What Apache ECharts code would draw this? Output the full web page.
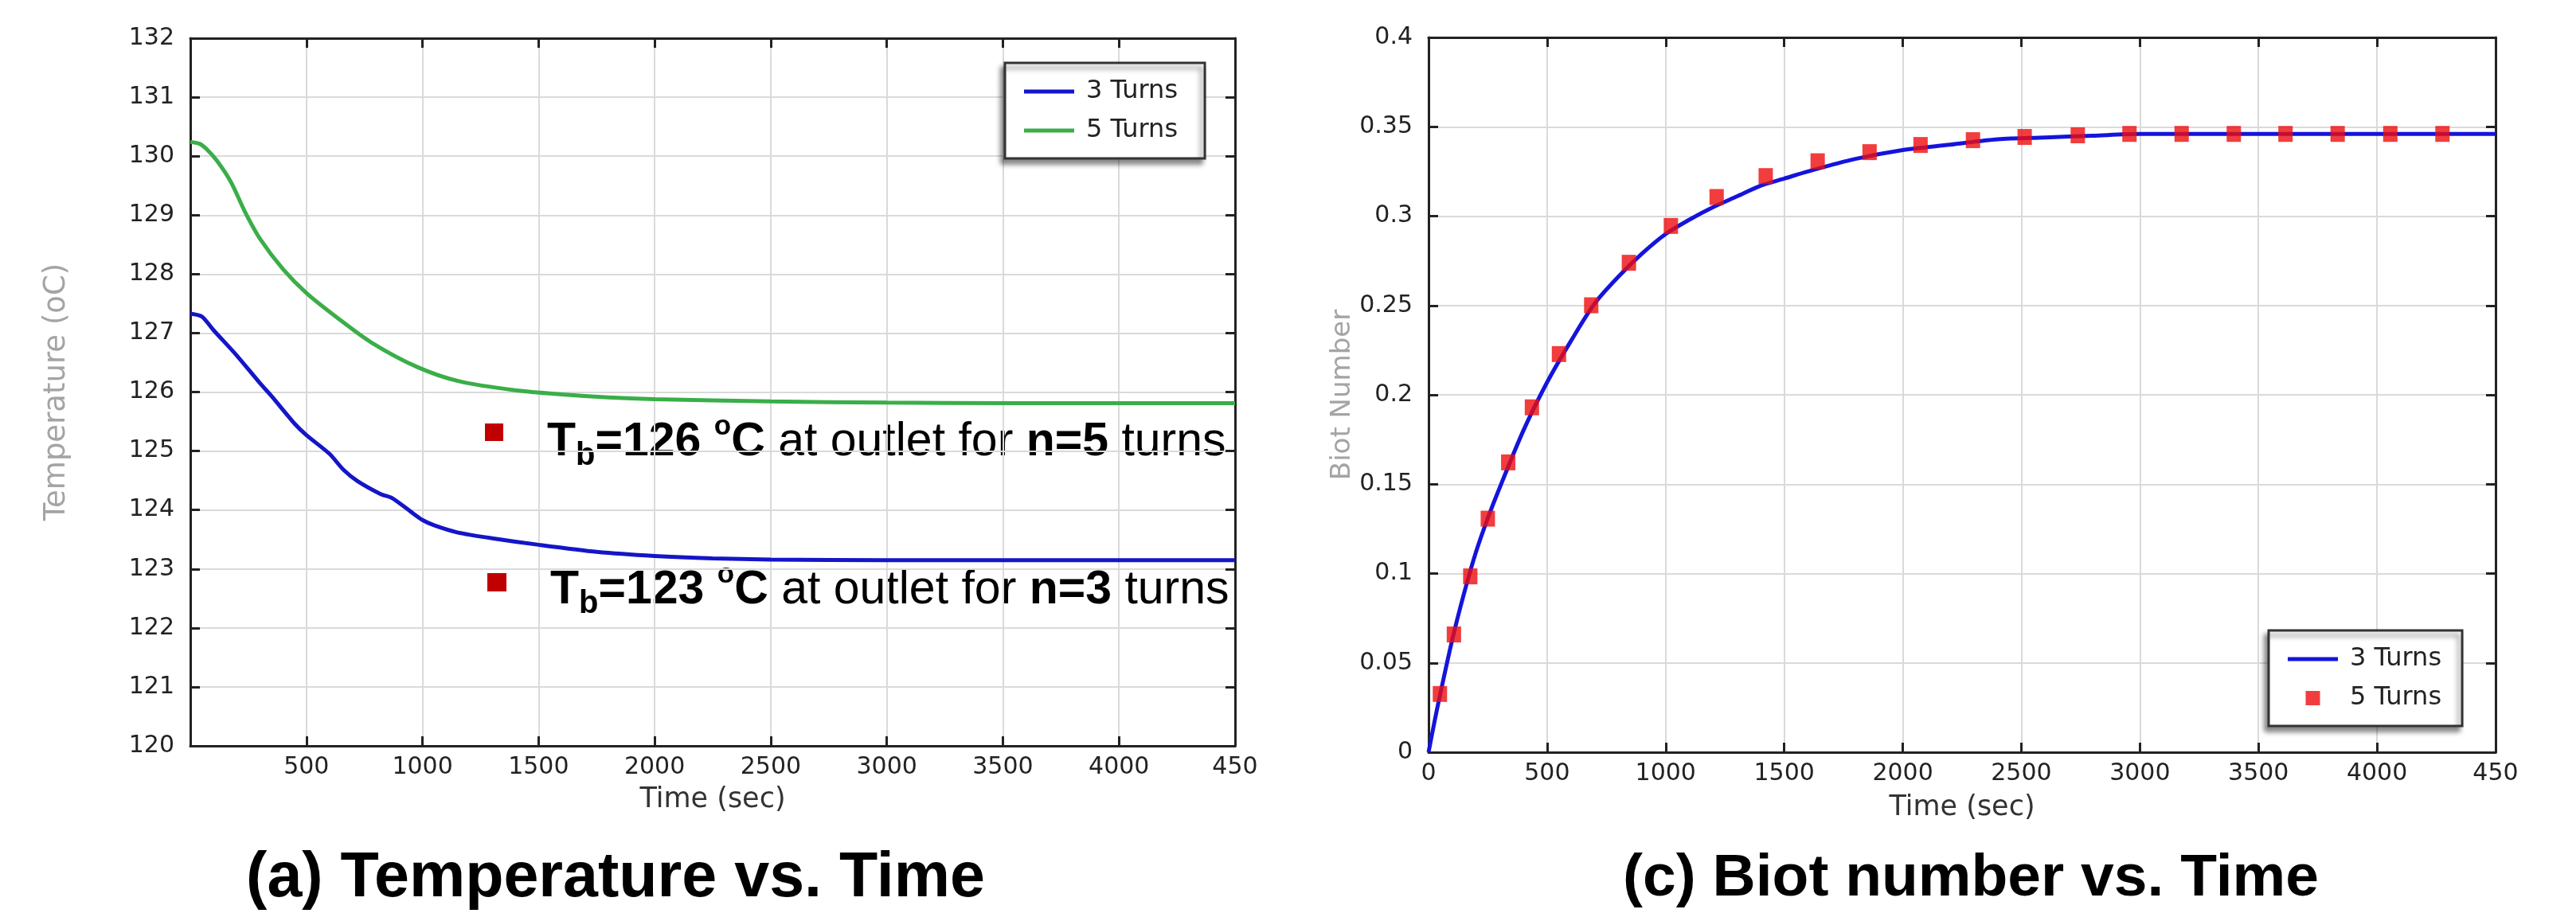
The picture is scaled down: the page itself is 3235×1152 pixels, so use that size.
<!DOCTYPE html>
<html><head><meta charset="utf-8">
<script src="https://cdn.jsdelivr.net/npm/echarts@6/dist/echarts.min.js"></script>
<style>html,body{margin:0;padding:0;background:#fff}#c{width:3235px;height:1152px}</style>
</head><body><div id="c"></div>
<script>
// ---- Panel (a): Temperature vs. Time ----
const tempTime3 = [0, 50, 100, 200, 300, 350, 450, 500, 600, 660, 720, 820, 870, 950, 1000, 1050, 1150, 1300, 1500, 1750, 2000, 2250, 2500, 3000, 3500, 4000, 4500];
const temp3 = [127.33, 127.28, 127.05, 126.62, 126.15, 125.93, 125.46, 125.27, 124.95, 124.68, 124.49, 124.27, 124.2, 123.97, 123.83, 123.74, 123.62, 123.52, 123.41, 123.29, 123.22, 123.18, 123.16, 123.15, 123.15, 123.15, 123.15];
const tempTime5 = [0, 40, 70, 115, 175, 235, 300, 400, 500, 630, 780, 980, 1160, 1400, 1600, 1800, 2000, 2500, 3000, 3500, 4000, 4500];
const temp5 = [130.24, 130.21, 130.12, 129.92, 129.56, 129.06, 128.6, 128.08, 127.68, 127.27, 126.84, 126.42, 126.18, 126.03, 125.96, 125.91, 125.88, 125.84, 125.82, 125.81, 125.81, 125.81];
const tempTicks = {min: 120, max: 132, interval: 1};
const timeTicks = {min: 0, max: 4500, interval: 500};

// ---- Panel (c): Biot number vs. Time ----
const biotTime3 = [0, 25, 50, 100, 150, 200, 250, 300, 400, 500, 600, 700, 800, 900, 1000, 1100, 1200, 1300, 1400, 1500, 1600, 1800, 2000, 2200, 2400, 2600, 2800, 3000, 3500, 4000, 4500];
const biot3 = [0, 0.017, 0.033, 0.063, 0.089, 0.112, 0.131, 0.148, 0.180, 0.207, 0.230, 0.251, 0.266, 0.279, 0.290, 0.298, 0.305, 0.311, 0.317, 0.321, 0.325, 0.332, 0.337, 0.340, 0.343, 0.344, 0.345, 0.346, 0.346, 0.346, 0.346];
const biotTime5 = [48, 107, 176, 250, 336, 436, 550, 686, 845, 1022, 1215, 1422, 1641, 1860, 2075, 2296, 2514, 2738, 2956, 3176, 3396, 3614, 3834, 4056, 4276];
const biot5 = [0.0326, 0.0659, 0.0984, 0.1307, 0.1622, 0.193, 0.2228, 0.2501, 0.2739, 0.2945, 0.3107, 0.3224, 0.3307, 0.3358, 0.3398, 0.3425, 0.3443, 0.3452, 0.346, 0.346, 0.346, 0.346, 0.346, 0.346, 0.346];
const biotTicks = {min: 0, max: 0.4, interval: 0.05};

const seriesNames = ['3 Turns', '5 Turns'];
const titles = ['(a) Temperature vs. Time', '(c) Biot number vs. Time'];

const zip = (a, b) => a.map((v, i) => [v, b[i]]);

const AX = '#222';
const GRID = '#dadada';
const TICKFONT = 'DejaVu Sans';
const LINE_ICON = 'path://M0,0M63,20M0,7.6h63v4.8h-63z';
const SQUARE_ICON = 'path://M0,0M63,20M22.5,1h18v18h-18z';

function baseAxis(extra) {
  return Object.assign({
    type: 'value',
    axisLine: {show: true, onZero: false, lineStyle: {color: AX, width: 3}},
    axisTick: {show: true, inside: true, length: 12, lineStyle: {color: AX, width: 3}},
    splitLine: {show: false},
    axisLabel: {show: false}
  }, extra);
}
const labelStyle = {show: true, fontSize: 30, color: '#222', fontFamily: TICKFONT};
const legendBase = {
  orient: 'vertical',
  itemWidth: 63, itemHeight: 20, itemGap: 17,
  textStyle: {fontSize: 32, color: '#222', fontFamily: TICKFONT, lineHeight: 30, padding: [0, 0, 0, 10]},
  itemStyle: {borderWidth: 0},
  backgroundColor: '#fff', borderColor: '#333', borderWidth: 3,
  shadowColor: 'rgba(0,0,0,0.45)', shadowBlur: 6, shadowOffsetX: -4, shadowOffsetY: 6,
  selectedMode: false
};

const option = {
  animation: false,
  backgroundColor: '#fff',
  grid: [
    {left: 239, top: 48, width: 1312, height: 889},
    {left: 1794, top: 47, width: 1340, height: 898}
  ],
  xAxis: [
    baseAxis(Object.assign({gridIndex: 0, position: 'bottom',
      splitLine: {show: true, lineStyle: {color: GRID, width: 2}},
      axisLabel: Object.assign({}, labelStyle, {margin: 12, showMinLabel: false,
        formatter: v => v === 4500 ? '450' : String(v)}),
      name: 'Time (sec)', nameLocation: 'middle', nameGap: 50,
      nameTextStyle: {fontSize: 35, color: '#333', fontFamily: TICKFONT}}, timeTicks)),
    baseAxis(Object.assign({gridIndex: 0, position: 'top'}, timeTicks)),
    baseAxis(Object.assign({gridIndex: 1, position: 'bottom',
      splitLine: {show: true, lineStyle: {color: GRID, width: 2}},
      axisLabel: Object.assign({}, labelStyle, {margin: 12,
        formatter: v => v === 4500 ? '450' : String(v)}),
      name: 'Time (sec)', nameLocation: 'middle', nameGap: 52,
      nameTextStyle: {fontSize: 35, color: '#333', fontFamily: TICKFONT}}, timeTicks)),
    baseAxis(Object.assign({gridIndex: 1, position: 'top'}, timeTicks))
  ],
  yAxis: [
    baseAxis(Object.assign({gridIndex: 0, position: 'left',
      splitLine: {show: true, lineStyle: {color: GRID, width: 2}},
      axisLabel: Object.assign({}, labelStyle, {margin: 20}),
      name: 'Temperature (oC)', nameLocation: 'middle', nameRotate: 90, nameGap: 149,
      nameTextStyle: {fontSize: 37, color: '#a4a4a4', fontFamily: TICKFONT}}, tempTicks)),
    baseAxis(Object.assign({gridIndex: 0, position: 'right'}, tempTicks)),
    baseAxis(Object.assign({gridIndex: 1, position: 'left',
      splitLine: {show: true, lineStyle: {color: GRID, width: 2}},
      axisLabel: Object.assign({}, labelStyle, {margin: 20,
        formatter: v => String(Math.round(v * 100) / 100)}),
      name: 'Biot Number', nameLocation: 'middle', nameRotate: 90, nameGap: 72,
      nameTextStyle: {fontSize: 34, color: '#a4a4a4', fontFamily: TICKFONT}}, biotTicks)),
    baseAxis(Object.assign({gridIndex: 1, position: 'right'}, biotTicks))
  ],
  legend: [
    Object.assign({}, legendBase, {
      left: 1262, top: 79, padding: [20, 34, 19, 24],
      data: [{name: seriesNames[0], icon: LINE_ICON}, {name: seriesNames[1], icon: LINE_ICON}]
    }),
    Object.assign({}, legendBase, {
      left: 2849, top: 792, padding: [20, 26, 19, 24],
      data: [{name: seriesNames[0] + ' ', icon: LINE_ICON}, {name: seriesNames[1] + ' ', icon: SQUARE_ICON}],
      formatter: n => n.trim()
    })
  ],
  series: [
    {type: 'line', name: seriesNames[0], xAxisIndex: 0, yAxisIndex: 0, data: zip(tempTime3, temp3),
     symbol: 'none', smooth: 0.25, lineStyle: {color: '#1515c8', width: 5}, itemStyle: {color: '#1515c8'}},
    {type: 'line', name: seriesNames[1], xAxisIndex: 0, yAxisIndex: 0, data: zip(tempTime5, temp5),
     symbol: 'none', smooth: 0.3, lineStyle: {color: '#3aae48', width: 5}, itemStyle: {color: '#3aae48'}},
    {type: 'line', name: seriesNames[0] + ' ', xAxisIndex: 2, yAxisIndex: 2, data: zip(biotTime3, biot3),
     symbol: 'none', smooth: 0.3, lineStyle: {color: '#1414dc', width: 5}, itemStyle: {color: '#1414dc'}},
    {type: 'scatter', name: seriesNames[1] + ' ', xAxisIndex: 2, yAxisIndex: 2, data: zip(biotTime5, biot5),
     symbol: 'rect', symbolSize: [18, 20], itemStyle: {color: '#ee0d0d'}, z: 5}
  ],
  graphic: [
    {type: 'rect', left: 609, top: 532, shape: {width: 23, height: 22}, style: {fill: '#c00000'}},
    {type: 'rect', left: 612, top: 720, shape: {width: 24, height: 23}, style: {fill: '#c00000'}},
    {type: 'text', x: 687, y: 556, style: annot('126 ', 'n=5')},
    {type: 'text', x: 691, y: 742, style: annot('123 ', 'n=3')},
    {type: 'text', x: 773, y: 1104, style: {text: titles[0], font: 'bold 79px "Liberation Sans", Arial, sans-serif', fill: '#000', align: 'center', verticalAlign: 'middle'}},
    {type: 'text', x: 2475, y: 1104, style: {text: titles[1], font: 'bold 75px "Liberation Sans", Arial, sans-serif', fill: '#000', align: 'center', verticalAlign: 'middle'}}
  ]
};

function annot(val, nTxt) {
  const F = '"Liberation Sans", Arial, sans-serif';
  return {
    text: '{tb|T}{sub|b}{tb|=}{rb|' + val + '}{sup|o}{rb|C}{n| at outlet for }{rb|' + nTxt + '}{n| turns}',
    verticalAlign: 'middle', align: 'left',
    rich: {
      tb: {fontFamily: F, fontSize: 59, fontWeight: 'bold', color: '#000', lineHeight: 74},
      sub: {fontFamily: F, fontSize: 40, fontWeight: 'bold', color: '#000', lineHeight: 40, verticalAlign: 'bottom'},
      rb: {fontFamily: F, fontSize: 59, fontWeight: 'bold', color: '#c00000', lineHeight: 74},
      sup: {fontFamily: F, fontSize: 35, fontWeight: 'bold', color: '#c00000', lineHeight: 35, verticalAlign: 'top'},
      n: {fontFamily: F, fontSize: 59, color: '#000', lineHeight: 74}
    }
  };
}

const chart = echarts.init(document.getElementById('c'), null, {renderer: 'canvas'});
chart.setOption(option);
</script>
</body></html>
